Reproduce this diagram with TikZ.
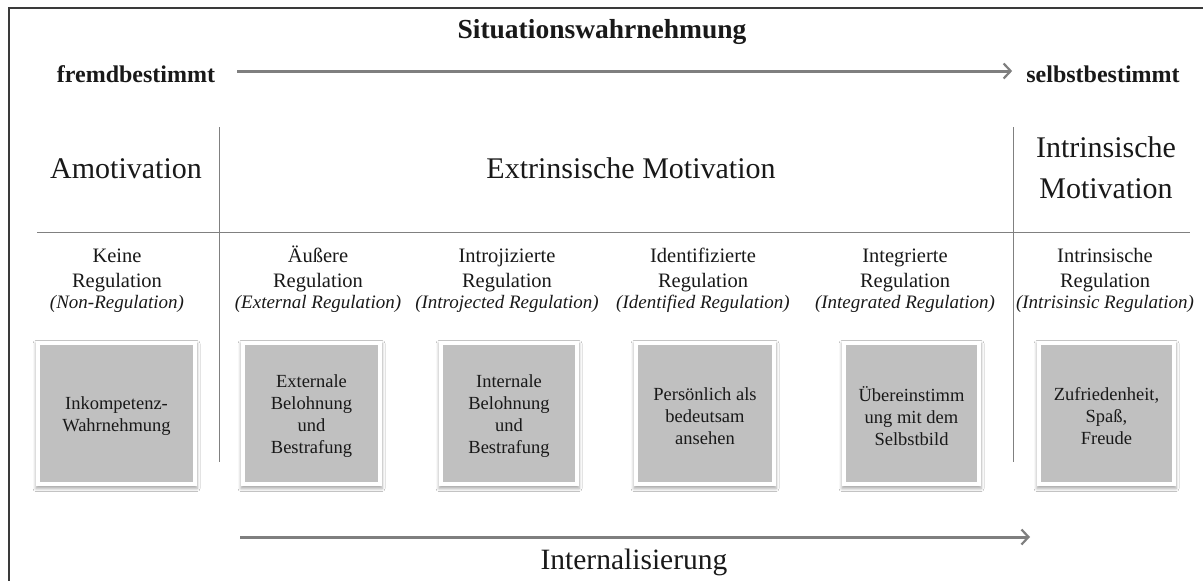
\documentclass[tikz,border=0pt]{standalone}
\usepackage{fontspec}
\setmainfont{Liberation Serif}
\usetikzlibrary{arrows.meta,shadows.blur}
\definecolor{boxgray}{HTML}{C0C0C0}
\definecolor{arrgray}{HTML}{7F7F7F}
\definecolor{linegray}{HTML}{808080}
\definecolor{framec}{HTML}{3A3A3A}
\newcommand{\regit}[1]{{\itshape\fontsize{19}{25}\selectfont #1}}
\begin{document}
\begin{tikzpicture}[x=1pt,y=-1pt,
  every node/.style={inner sep=0pt, text=black!90},
  boldhead/.style={font=\bfseries\fontsize{24}{28}\selectfont, anchor=base},
  title/.style={font=\fontsize{30}{41}\selectfont, anchor=base, align=center},
  reghead/.style={font=\fontsize{20.5}{25}\selectfont, anchor=base, align=center},
  card/.style={fill=white, minimum width=#1+8, minimum height=145,
    blur shadow={shadow xshift=0pt, shadow yshift=-2.5pt, shadow blur radius=3pt, shadow opacity=35}},
  gbox/.style={fill=boxgray, minimum width=#1, minimum height=137},
  boxtext/.style={font=\fontsize{18.5}{22}\selectfont, align=center},
  arr/.style={draw=arrgray, line width=3pt,
    -{Straight Barb[length=7pt, width=15pt, line width=2.2pt]}},
  divider/.style={draw=linegray, line width=1pt}
]
\useasboundingbox (0,0) rectangle (1203,581);
\fill[white] (0,0) rectangle (1203,581);
% frame (only top and left visible)
\draw[framec, line width=1.6pt] (9,581) -- (9,8) -- (1203,8);

% top scale
\node[font=\bfseries\fontsize{27.5}{30}\selectfont, anchor=base] (sit) at (602,38) {Situationswahrnehmung};
\node[boldhead] (fremd) at (136,82) {fremdbestimmt};
\node[boldhead] (selbst) at (1103,82) {selbstbestimmt};
\draw[arr, shorten <=22pt, shorten >=14pt] (fremd.east |- 0,71) -- (selbst.west |- 0,71);

% dividers
\draw[divider] (219,127) -- (219,462);
\draw[divider] (1013,127) -- (1013,462);
\draw[divider] (37,232) -- (1190,232);

% group titles
\node[title] (amo) at (126,178) {Amotivation};
\node[title] (ext) at (631,178) {Extrinsische Motivation};
\node[title] (intr) at (1106,198) {Intrinsische\\Motivation};

% regulation headers (base = last line)
\node[reghead] (h1) at (117,308) {Keine\\Regulation\\[-4pt]\regit{(Non-Regulation)}};
\node[reghead] (h2) at (318,308) {Äußere\\Regulation\\[-4pt]\regit{(External Regulation)}};
\node[reghead] (h3) at (507,308) {Introjizierte\\Regulation\\[-4pt]\regit{(Introjected Regulation)}};
\node[reghead] (h4) at (703,308) {Identifizierte\\Regulation\\[-4pt]\regit{(Identified Regulation)}};
\node[reghead] (h5) at (905,308) {Integrierte\\Regulation\\[-4pt]\regit{(Integrated Regulation)}};
\node[reghead] (h6) at (1105,308) {Intrinsische\\Regulation\\[-4pt]\regit{(Intrisinsic Regulation)}};

% cards
\node[card=153] (c1) at (116.5,413.5) {};
\node[card=133] (c2) at (311.5,413.5) {};
\node[card=132] (c3) at (509,413.5) {};
\node[card=134] (c4) at (705,413.5) {};
\node[card=131] (c5) at (911.5,413.5) {};
\node[card=131] (c6) at (1106.5,413.5) {};
\node[gbox=153] (b1) at (c1) {};
\node[gbox=133] (b2) at (c2) {};
\node[gbox=132] (b3) at (c3) {};
\node[gbox=134] (b4) at (c4) {};
\node[gbox=131] (b5) at (c5) {};
\node[gbox=131] (b6) at (c6) {};
\node[boxtext] (t1) at ([yshift=-3pt]b1.center) {Inkompetenz-\\Wahrnehmung};
\node[boxtext] (t2) at ([yshift=-3pt]b2.center) {Externale\\Belohnung\\und\\Bestrafung};
\node[boxtext] (t3) at ([yshift=-3pt]b3.center) {Internale\\Belohnung\\und\\Bestrafung};
\node[boxtext] (t4) at ([yshift=-3pt]b4.center) {Persönlich als\\bedeutsam\\ansehen};
\node[boxtext] (t5) at ([yshift=-3pt]b5.center) {Übereinstimm\\ung mit dem\\Selbstbild};
\node[boxtext] (t6) at ([yshift=-3pt]b6.center) {Zufriedenheit,\\Spaß,\\Freude};

% bottom scale
\coordinate (ia) at (240,537);
\coordinate (ib) at (1030,537);
\draw[arr] (ia) -- (ib);
\node[font=\fontsize{29.5}{32}\selectfont, anchor=base] (intl) at (634,569) {Internalisierung};
\end{tikzpicture}
\end{document}
